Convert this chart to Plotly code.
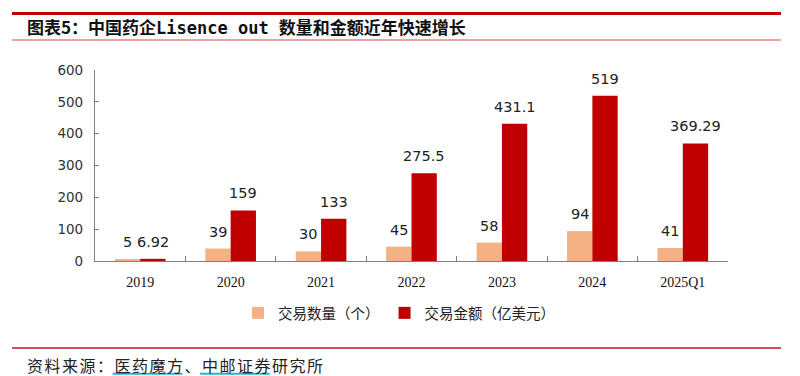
import plotly.graph_objects as go

categories = ["2019", "2020", "2021", "2022", "2023", "2024", "2025Q1"]
deal_count = [5, 39, 30, 45, 58, 94, 41]
deal_amount = [6.92, 159, 133, 275.5, 431.1, 519, 369.29]
count_labels = ["5", "39", "30", "45", "58", "94", "41"]
amount_labels = ["6.92", "159", "133", "275.5", "431.1", "519", "369.29"]
y_ticks = [0, 100, 200, 300, 400, 500, 600]

title_cn1 = "图表5：中国药企"
title_en = "Lisence out "
title_cn2 = "数量和金额近年快速增长"
source_text = "资料来源：医药魔方、中邮证券研究所"

label_font = dict(family="DejaVu Sans", size=14.5, color="#222222")
BARGAP = 0.44
W, H = 792, 368
L, R, T, B = 87, 72, 62, 115
plot_w = W - L - R
half_bar = plot_w / len(categories) * (1 - BARGAP) / 4

fig = go.Figure()
fig.add_trace(go.Bar(
    x=categories, y=deal_count, name="交易数量（个）",
    marker=dict(color="#F4B183", line=dict(width=0)),
    textposition="none",
))
fig.add_trace(go.Bar(
    x=categories, y=deal_amount, name="交易金额（亿美元）",
    marker=dict(color="#C00000", line=dict(width=0)),
    textposition="none",
))

# data labels placed via the axes (category index positions)
for i, (v, t) in enumerate(zip(deal_count, count_labels)):
    fig.add_annotation(x=i, y=v, text=t, xref="x", yref="y", showarrow=False,
                       xshift=-half_bar, yshift=7, yanchor="bottom", xanchor="center",
                       font=label_font)
for i, (v, t) in enumerate(zip(deal_amount, amount_labels)):
    fig.add_annotation(x=i, y=v, text=t, xref="x", yref="y", showarrow=False,
                       xshift=half_bar, yshift=7, yanchor="bottom", xanchor="center",
                       font=label_font)

fig.update_layout(
    width=W, height=H,
    margin=dict(l=L, r=R, t=T, b=B),
    paper_bgcolor="white", plot_bgcolor="white",
    barmode="group", bargap=BARGAP, bargroupgap=0,
    showlegend=True,
    legend=dict(
        orientation="h", x=0.226, xanchor="left", y=-0.272, yanchor="middle",
        font=dict(family="Noto Sans CJK SC", size=14.5, color="#222222"),
        traceorder="normal", itemwidth=30,
    ),
)
fig.update_xaxes(
    type="category", categoryorder="array", categoryarray=categories,
    range=[-0.5, len(categories) - 0.5],
    showline=True, linecolor="#7f7f7f", linewidth=1.2,
    ticks="inside", tickson="boundaries", ticklen=5, tickcolor="#7f7f7f",
    tickfont=dict(family="Liberation Serif", size=14, color="#111111"),
    ticklabelstandoff=8,
    showgrid=False, zeroline=False,
)
fig.update_yaxes(
    range=[0, 600], tickvals=y_ticks, showline=True, linecolor="#7f7f7f", linewidth=1.2,
    ticks="inside", ticklen=4, tickcolor="#7f7f7f",
    tickfont=dict(family="DejaVu Sans", size=13.5, color="#333333"),
    ticklabelstandoff=8,
    showgrid=False, zeroline=False,
)

# header / footer decorations
X0, X1 = -0.1311, 1.0837
fig.add_shape(type="line", xref="paper", yref="paper", x0=X0, x1=X1, y0=1.2958, y1=1.2958,
              line=dict(color="#C00000", width=2.8))
fig.add_shape(type="line", xref="paper", yref="paper", x0=X0, x1=X1, y0=1.157, y1=1.157,
              line=dict(color="#E8808A", width=1.3))
fig.add_shape(type="line", xref="paper", yref="paper", x0=X0, x1=X1, y0=-0.4555, y1=-0.4555,
              line=dict(color="#D05060", width=1.8))
title_html = (title_cn1
              + "<span style='font-family:DejaVu Sans Mono'>" + title_en + "</span>"
              + title_cn2)
fig.add_annotation(text=title_html, xref="paper", yref="paper", x=-0.1106, y=1.228,
                   xanchor="left", yanchor="middle", showarrow=False,
                   font=dict(family="Noto Sans CJK SC", size=17, color="#111111", weight="bold"))
fig.add_annotation(text="<span style='letter-spacing:1.5px'>" + source_text + "</span>",
                   xref="paper", yref="paper", x=-0.1106, y=-0.545,
                   xanchor="left", yanchor="middle", showarrow=False,
                   font=dict(family="Noto Sans CJK SC", size=16, color="#222222"))
# hyperlink underlines in source line
fig.add_shape(type="line", xref="paper", yref="paper", x0=0.0277, x1=0.138, y0=-0.59, y1=-0.59,
              line=dict(color="#2BB3D6", width=2))
fig.add_shape(type="line", xref="paper", yref="paper", x0=0.166, x1=0.276, y0=-0.59, y1=-0.59,
              line=dict(color="#2BB3D6", width=2))

fig.write_html("out.html")
